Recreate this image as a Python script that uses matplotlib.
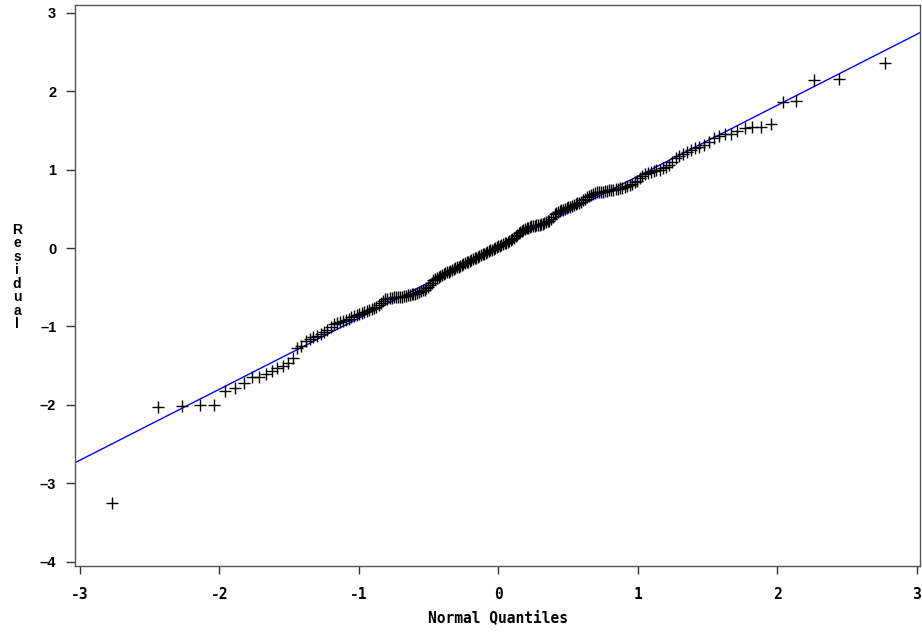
import statistics
import numpy as np
import matplotlib
matplotlib.use("Agg")
import matplotlib.pyplot as plt

# sorted residuals (lower half, then upper half)
resid_low = [
    -3.25, -2.03, -2.02, -2.00, -2.00, -1.82, -1.78, -1.72, -1.65, -1.64,
    -1.60, -1.57, -1.53, -1.51, -1.47, -1.40, -1.28, -1.25, -1.18, -1.16,
    -1.14, -1.12, -1.09, -1.07, -1.05, -1.01, -0.97, -0.955, -0.945, -0.93,
    -0.915, -0.90, -0.88, -0.87, -0.855, -0.845, -0.83, -0.82, -0.805, -0.795,
    -0.78, -0.77, -0.755, -0.73, -0.70, -0.67, -0.655, -0.645, -0.64, -0.635,
    -0.63, -0.63, -0.625, -0.62, -0.62, -0.615, -0.61, -0.60, -0.60, -0.59,
    -0.585, -0.58, -0.57, -0.56, -0.55, -0.54, -0.53, -0.51, -0.50, -0.47,
    -0.44, -0.41, -0.39, -0.377, -0.365, -0.354, -0.344, -0.332, -0.321, -0.31,
    -0.30, -0.289, -0.279, -0.268, -0.257, -0.246, -0.236, -0.226, -0.215, -0.204,
    -0.194, -0.183, -0.174, -0.164, -0.153, -0.143, -0.133, -0.122, -0.112, -0.102,
    -0.092, -0.082, -0.072, -0.061, -0.051, -0.041, -0.030, -0.021, -0.011, -0.001,
    0.01, 0.02,
]
resid_high = [
    0.03, 0.04, 0.05, 0.06, 0.07, 0.08, 0.09, 0.10, 0.12, 0.13,
    0.15, 0.17, 0.19, 0.21, 0.22, 0.23, 0.24, 0.25, 0.26, 0.27,
    0.275, 0.28, 0.285, 0.29, 0.295, 0.30, 0.305, 0.31, 0.32, 0.33,
    0.34, 0.35, 0.37, 0.40, 0.43, 0.45, 0.46, 0.47, 0.48, 0.49,
    0.50, 0.51, 0.52, 0.53, 0.54, 0.55, 0.56, 0.57, 0.58, 0.59,
    0.61, 0.63, 0.65, 0.67, 0.68, 0.69, 0.70, 0.71, 0.715, 0.72,
    0.72, 0.725, 0.73, 0.735, 0.74, 0.745, 0.75, 0.755, 0.76, 0.77,
    0.78, 0.79, 0.80, 0.82, 0.84, 0.86, 0.89, 0.92, 0.94, 0.96,
    0.97, 0.98, 0.99, 1.00, 1.02, 1.04, 1.06, 1.10, 1.15, 1.18,
    1.20, 1.22, 1.25, 1.27, 1.29, 1.31, 1.35, 1.40, 1.43, 1.45,
    1.46, 1.49, 1.53, 1.54, 1.54, 1.58, 1.86, 1.87, 2.14, 2.16,
    2.36,
]
residuals = resid_low + resid_high

# reference line (mu, sigma)
line_mu = 0.01
line_sigma = 0.905

x_ticks = [-3, -2, -1, 0, 1, 2, 3]
y_ticks = [-4, -3, -2, -1, 0, 1, 2, 3]

# normal quantiles with Blom's plotting positions (SAS default)
n = len(residuals)
nd = statistics.NormalDist()
quantiles = [nd.inv_cdf((i - 0.375) / (n + 0.25)) for i in range(1, n + 1)]

fig = plt.figure(figsize=(9.22, 6.35), dpi=100)
ax = fig.add_axes([75 / 922, 69 / 635, 845 / 922, 561 / 635])

ax.axline((0, line_mu), slope=line_sigma, color="blue", lw=1, zorder=2)
ax.plot(quantiles, sorted(residuals), ls="none", marker="+", ms=8.5, mew=1,
        color="black", zorder=3)

ax.set_xlim(-3.036, 3.025)
ax.set_ylim(-4.055, 3.10)
ax.set_xticks(x_ticks)
ax.set_yticks(y_ticks)
ax.set_xticklabels([str(t) for t in x_ticks], family="DejaVu Sans Mono",
                   fontweight="bold", fontsize=10.5)
ax.set_yticklabels([str(t).replace("-", "\u2013") for t in y_ticks],
                   family="Liberation Sans", fontweight="bold", fontsize=10.5)
ax.tick_params(axis="x", length=6, width=1, pad=9, color="#333333")
ax.tick_params(axis="y", length=6.5, width=1, pad=7, color="#333333")

for side in ["left", "bottom", "top", "right"]:
    ax.spines[side].set_color("#555555")
    ax.spines[side].set_linewidth(1)

ax.set_xlabel("Normal Quantiles", family="DejaVu Sans Mono", fontweight="bold",
              fontsize=10.5, labelpad=6)
fig.text(17 / 922, 1 - 277 / 635, "\n".join("Residual"), ha="center",
         va="center", family="Liberation Sans", fontweight="bold",
         fontsize=10, linespacing=0.95)

fig.savefig("out.png", dpi=100)
